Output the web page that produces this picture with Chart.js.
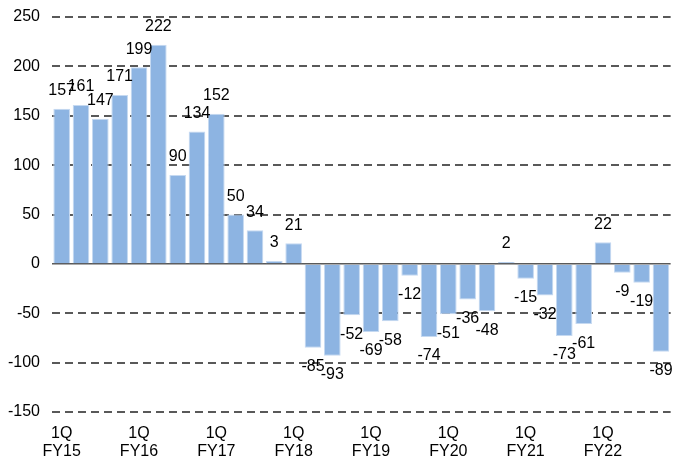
<!DOCTYPE html>
<html>
<head>
<meta charset="utf-8">
<script src="https://cdn.jsdelivr.net/npm/chart.js@4/dist/chart.umd.min.js"></script>
<style>
  html, body { margin: 0; padding: 0; background: #fff; }
  #wrap { width: 674px; height: 459px; }
</style>
</head>
<body>
<div id="wrap"><canvas id="chart"></canvas></div>
<script>
// quarters 1Q FY15 .. 4Q FY22
var quarters = [];
var years = ['FY15', 'FY16', 'FY17', 'FY18', 'FY19', 'FY20', 'FY21', 'FY22'];
years.forEach(function (y) {
    ['1Q', '2Q', '3Q', '4Q'].forEach(function (q) { quarters.push(q + ' ' + y); });
});
var values = [157, 161, 147, 171, 199, 222, 90, 134, 152, 50, 34, 3, 21, -85, -93, -52,
              -69, -58, -12, -74, -51, -36, -48, 2, -15, -32, -73, -61, 22, -9, -19, -89];
var yTicks = [-150, -100, -50, 0, 50, 100, 150, 200, 250];

var fontFam = '"Liberation Sans", Arial, sans-serif';

// value labels above / below the bar ends
var barLabels = {
    id: 'barLabels',
    afterDatasetsDraw: function (chart) {
        var ctx = chart.ctx;
        var meta = chart.getDatasetMeta(0);
        ctx.save();
        ctx.font = '16px ' + fontFam;
        ctx.fillStyle = '#000';
        ctx.textAlign = 'center';
        ctx.textBaseline = 'middle';
        meta.data.forEach(function (bar, i) {
            var v = values[i];
            var y = v >= 0 ? bar.y - 18 : bar.y + 19;
            ctx.fillText(String(v), bar.x, y);
        });
        ctx.restore();
    }
};

new Chart(document.getElementById('chart'), {
    type: 'bar',
    data: {
        labels: quarters,
        datasets: [{
            data: values,
            backgroundColor: '#8db4e2',
            borderColor: '#c5d9f1',
            borderWidth: 1,
            barPercentage: 1,
            categoryPercentage: 0.86
        }]
    },
    options: {
        responsive: true,
        maintainAspectRatio: false,
        animation: false,
        layout: { padding: { top: 17, right: 2, left: 7, bottom: 0 } },
        plugins: {
            legend: { display: false },
            tooltip: { enabled: false }
        },
        scales: {
            x: {
                grid: { display: false, drawTicks: false },
                border: { display: false },
                afterFit: function (axis) { axis.height = 47; },
                ticks: {
                    autoSkip: false,
                    maxRotation: 0,
                    font: { family: fontFam, size: 16, lineHeight: 1.1 },
                    color: '#000',
                    padding: 13,
                    callback: function (val, i) {
                        if (i % 4 !== 0) return '';
                        var parts = quarters[i].split(' ');
                        return [parts[0], parts[1]];
                    }
                }
            },
            y: {
                min: yTicks[0],
                max: yTicks[yTicks.length - 1],
                afterBuildTicks: function (axis) {
                    axis.ticks = yTicks.map(function (v) { return { value: v }; });
                },
                afterFit: function (axis) {
                    axis.width = 45;
                    axis.paddingTop = 0;
                    axis.paddingBottom = 0;
                },
                grid: {
                    color: '#595959',
                    lineWidth: function (c) { return c.tick && c.tick.value === 0 ? 1.5 : 2; },
                    drawTicks: false
                },
                border: {
                    display: false,
                    dash: function (c) { return c.tick && c.tick.value === 0 ? [] : [8, 5]; }
                },
                ticks: {
                    font: { family: fontFam, size: 16 },
                    color: '#000',
                    padding: 12
                }
            }
        }
    },
    plugins: [barLabels]
});
</script>
</body>
</html>
